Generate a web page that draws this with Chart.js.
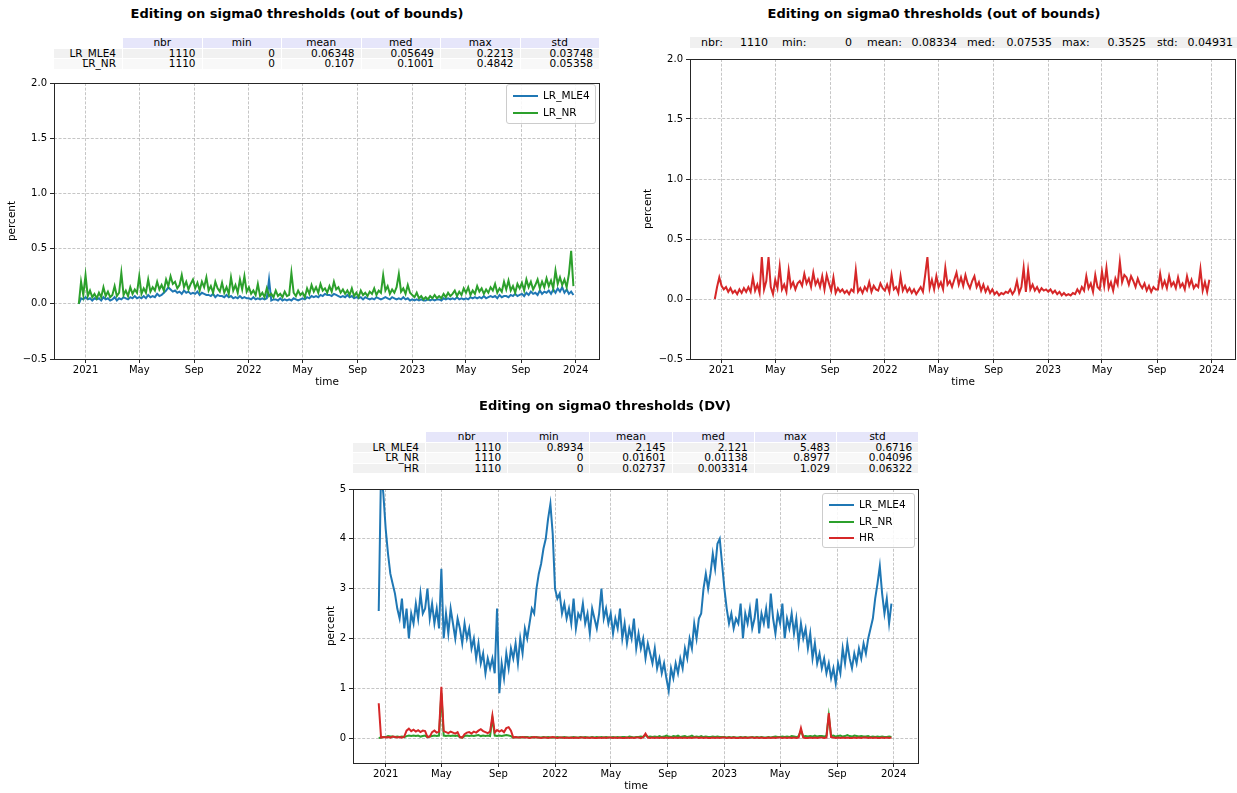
<!DOCTYPE html>
<html><head><meta charset="utf-8">
<script src="https://cdn.jsdelivr.net/npm/chart.js@4.4.1/dist/chart.umd.min.js"></script>
<style>
body{margin:0;width:1237px;height:793px;position:relative;background:#fff;font-family:"DejaVu Sans",sans-serif;overflow:hidden;color:#000}
.wrap{position:absolute}
.title{position:absolute;font-weight:bold;font-size:13px;transform:translateX(-50%);white-space:nowrap}
table.st{position:absolute;border-collapse:separate;border-spacing:1px 1px;font-size:10.5px;table-layout:fixed}
table.st td{padding:0 6px 0 0;height:9.6px;line-height:9.6px;white-space:nowrap;overflow:visible}
td.h{background:#e6e6fa;text-align:center;padding:0!important}
td.r{text-align:right}
.leg{position:absolute;background:rgba(255,255,255,0.85);border:1px solid #cccccc;border-radius:3px;font-size:10.5px}
.leg div{position:absolute;white-space:nowrap}
.bar2{position:absolute;background:#f0f0f0;font-size:11px;height:11px;line-height:11px}
.bar2 span{position:absolute;white-space:nowrap}
</style>
</head><body>
<script>
// ---------- data ----------
const startDate = '2020-12-17';   // first sample
const stepDays = 5;               // sampling step of the arrays below
const endDate = '2023-12-31';
const xTickDates = ['2021-01-01','2021-05-01','2021-09-01','2022-01-01','2022-05-01','2022-09-01','2023-01-01','2023-05-01','2023-09-01','2024-01-01'];
const xTickLabels = ['2021','May','Sep','2022','May','Sep','2023','May','Sep','2024'];
const yTicksTop = [-0.5,0,0.5,1,1.5,2];
const yTickLabelsTop = ['\u22120.5','0.0','0.5','1.0','1.5','2.0'];
const yTicksDV = [0,1,2,3,4,5];
const yTickLabelsDV = ['0','1','2','3','4','5'];

const titleOOB = 'Editing on sigma0 thresholds (out of bounds)';
const titleDV = 'Editing on sigma0 thresholds (DV)';

// plot 1 : out of bounds LR
const oobMLE4 = [0.0,0.05,0.04,
0.06,0.04,0.05,0.03,0.05,0.04, 0.05,0.03,0.06,0.04,0.05,0.03, 0.04,0.06,0.03,0.05,0.04,0.06,
0.05,0.04,0.06,0.05,0.07,0.05, 0.06,0.05,0.07,0.05,0.08,0.06, 0.07,0.06,0.09,0.07,0.08,0.1,
0.12,0.15,0.13,0.11,0.12,0.1, 0.11,0.09,0.12,0.1,0.11,0.09,0.1, 0.09,0.11,0.08,0.1,0.09,0.08,
0.08,0.07,0.09,0.06,0.08,0.07, 0.07,0.06,0.08,0.06,0.07,0.05, 0.06,0.05,0.07,0.05,0.06,0.05,
0.05,0.04,0.06,0.04,0.05,0.04, 0.05,0.04,0.05,0.22,0.03,0.04, 0.04,0.03,0.05,0.03,0.04,0.03,
0.04,0.03,0.05,0.04,0.03,0.04, 0.05,0.04,0.06,0.05,0.07,0.06, 0.07,0.06,0.08,0.07,0.09,0.08,
0.08,0.07,0.09,0.08,0.07,0.06, 0.07,0.06,0.08,0.06,0.07,0.05,0.06, 0.05,0.06,0.04,0.06,0.05,0.04,
0.05,0.04,0.06,0.05,0.04,0.05, 0.06,0.05,0.04,0.06,0.05,0.04, 0.05,0.04,0.06,0.04,0.05,0.03,
0.04,0.03,0.04,0.03,0.04,0.03, 0.03,0.04,0.03,0.04,0.03,0.04, 0.04,0.03,0.05,0.04,0.05,0.04,
0.05,0.04,0.06,0.04,0.05,0.04, 0.05,0.04,0.06,0.05,0.06,0.05, 0.06,0.05,0.07,0.05,0.06,0.07,
0.06,0.07,0.05,0.08,0.06,0.07, 0.07,0.06,0.08,0.07,0.09,0.07,0.08, 0.09,0.07,0.1,0.08,0.11,0.09,
0.1,0.08,0.12,0.09,0.11,0.1, 0.12,0.09,0.13,0.1,0.14,0.11, 0.15,0.1,0.13,0.09,0.11,0.08];

const oobNR = [0.0,0.2,0.08,
0.26,0.07,0.12,0.06,0.09,0.05, 0.1,0.06,0.15,0.07,0.11,0.06, 0.08,0.16,0.07,0.1,0.28,0.08,
0.12,0.07,0.15,0.09,0.13,0.1, 0.25,0.09,0.14,0.1,0.22,0.11, 0.15,0.12,0.2,0.13,0.17,0.12,
0.22,0.16,0.25,0.18,0.2,0.14, 0.17,0.26,0.15,0.2,0.13,0.18,0.22, 0.14,0.19,0.12,0.2,0.15,0.24,
0.12,0.16,0.1,0.2,0.14,0.11, 0.19,0.1,0.15,0.09,0.24,0.12, 0.17,0.1,0.22,0.13,0.25,0.11,
0.15,0.09,0.12,0.08,0.18,0.07, 0.1,0.06,0.14,0.07,0.09,0.06, 0.12,0.07,0.09,0.06,0.11,0.07,
0.08,0.28,0.1,0.07,0.12,0.08, 0.1,0.06,0.14,0.09,0.17,0.11, 0.15,0.1,0.18,0.12,0.14,0.1,
0.16,0.11,0.2,0.13,0.15,0.1, 0.13,0.09,0.12,0.08,0.14,0.07,0.1, 0.06,0.12,0.08,0.1,0.07,0.11,
0.09,0.14,0.08,0.12,0.1,0.26, 0.12,0.16,0.09,0.13,0.1,0.15, 0.27,0.11,0.14,0.09,0.17,0.1,
0.08,0.06,0.1,0.05,0.07,0.04, 0.06,0.04,0.07,0.05,0.08,0.05, 0.07,0.05,0.09,0.06,0.1,0.07,
0.09,0.12,0.07,0.11,0.08,0.14, 0.1,0.15,0.08,0.12,0.09,0.16, 0.11,0.14,0.09,0.13,0.1,0.15,
0.12,0.18,0.1,0.14,0.11,0.2, 0.13,0.21,0.12,0.16,0.1,0.18,0.14, 0.19,0.12,0.22,0.15,0.2,0.13,
0.17,0.22,0.14,0.2,0.15,0.23, 0.16,0.21,0.14,0.3,0.18,0.24, 0.17,0.22,0.15,0.27,0.48,0.16];

// plot 2 : out of bounds HR
const oobHR = [0.0,0.1,0.18,
0.11,0.08,0.1,0.06,0.09,0.05, 0.07,0.04,0.08,0.05,0.09,0.06, 0.1,0.06,0.18,0.07,0.12,0.05,
0.35,0.08,0.15,0.35,0.1,0.04, 0.16,0.09,0.27,0.08,0.12,0.06, 0.24,0.1,0.14,0.08,0.13,0.15,
0.11,0.21,0.13,0.17,0.1,0.22, 0.12,0.16,0.1,0.19,0.08,0.2,0.13, 0.07,0.18,0.05,0.09,0.06,0.08,
0.05,0.07,0.04,0.08,0.06,0.24, 0.06,0.09,0.05,0.1,0.07,0.14, 0.06,0.11,0.08,0.07,0.13,0.09,
0.07,0.12,0.06,0.2,0.08,0.1, 0.05,0.19,0.07,0.11,0.06,0.09, 0.05,0.08,0.04,0.07,0.1,0.06,
0.2,0.35,0.09,0.16,0.08,0.19, 0.1,0.14,0.08,0.26,0.12,0.15, 0.1,0.16,0.22,0.12,0.18,0.11,
0.2,0.13,0.09,0.15,0.19,0.1, 0.14,0.07,0.12,0.06,0.1,0.05,0.08, 0.04,0.06,0.03,0.05,0.04,0.06,
0.05,0.08,0.04,0.07,0.15,0.05, 0.1,0.26,0.06,0.24,0.08,0.12, 0.07,0.1,0.06,0.09,0.07,0.08,
0.06,0.08,0.05,0.07,0.04,0.06, 0.03,0.05,0.03,0.04,0.03,0.05, 0.04,0.08,0.05,0.1,0.07,0.19,
0.09,0.13,0.06,0.2,0.1,0.08, 0.23,0.11,0.26,0.09,0.14,0.07, 0.17,0.12,0.31,0.14,0.2,0.18,
0.12,0.19,0.15,0.1,0.17,0.12, 0.09,0.13,0.07,0.11,0.06,0.1,0.08, 0.08,0.21,0.1,0.15,0.09,0.19,
0.11,0.14,0.09,0.18,0.1,0.13, 0.08,0.19,0.11,0.16,0.09,0.12, 0.1,0.25,0.07,0.14,0.06,0.16];

// plot 3 : DV
const dvMLE4 = [2.55,5.4,4.9,
4.2,3.7,3.3,3.1,2.9,2.6, 2.4,2.8,2.2,2.6,2.0,2.5, 2.3,2.7,2.4,2.9,2.5,2.6,
3.0,2.4,2.7,2.3,2.6,2.2, 3.4,2.0,2.5,2.1,2.6,2.3, 2.0,2.4,2.2,1.9,2.3,2.0,
2.2,1.8,2.0,1.6,1.9,1.5, 1.7,1.3,1.6,1.4,1.6,1.3,2.6, 0.9,1.5,1.2,1.7,1.4,1.8,
1.6,1.9,1.5,2.0,1.7,2.2, 2.0,2.3,2.6,2.5,3.0,3.3, 3.5,3.8,4.0,4.4,4.7,4.1,
3.0,2.8,2.9,2.5,2.7,2.4, 2.6,2.3,2.8,2.2,2.5,2.4, 2.7,2.3,2.5,2.1,2.6,2.4,
2.2,2.5,3.0,2.4,2.6,2.3, 2.5,2.1,2.4,2.2,2.6,2.0, 2.3,1.9,2.2,2.0,2.4,1.8,
2.1,1.8,2.0,1.6,1.9,1.7, 1.5,1.8,1.4,1.6,1.3,1.5,1.2, 0.95,1.4,1.2,1.5,1.3,1.6,
1.4,1.8,1.6,2.0,1.8,2.3, 2.0,2.4,2.5,3.0,3.3,3.0, 3.3,3.7,3.4,3.9,4.0,3.5,
3.0,2.6,2.3,2.5,2.2,2.4, 2.3,2.7,2.0,2.5,2.3,2.6, 2.2,2.4,2.8,2.1,2.5,2.3,
2.6,2.2,2.9,2.4,2.1,2.5, 2.3,2.7,2.0,2.4,2.2,2.5, 2.1,2.4,1.9,2.3,2.0,2.2,
1.8,2.1,1.6,1.9,1.5,1.7, 1.4,1.6,1.3,1.5,1.2,1.4,1.1, 1.5,1.3,1.8,1.5,1.9,1.6,
1.4,1.7,1.5,1.8,1.6,1.9, 1.7,2.0,2.2,2.4,2.8,3.1, 3.45,2.9,2.5,2.8,2.3,2.7];

const dvNR = [0.0,0.01,0.02,
0.02,0.04,0.03,0.03,0.02,0.03, 0.02,0.03,0.02,0.04,0.05,0.04, 0.05,0.04,0.05,0.03,0.04,0.05,
0.02,0.03,0.04,0.05,0.04,0.05, 0.9,0.05,0.04,0.05,0.04,0.05, 0.04,0.05,0.02,0.01,0.04,0.05,
0.04,0.05,0.04,0.05,0.06,0.04, 0.05,0.04,0.05,0.04,0.4,0.05,0.04, 0.05,0.04,0.05,0.06,0.05,0.04,
0.01,0.02,0.01,0.02,0.01,0.02, 0.02,0.01,0.02,0.01,0.02,0.01, 0.01,0.02,0.01,0.02,0.01,0.01,
0.01,0.02,0.01,0.01,0.02,0.01, 0.01,0.01,0.02,0.01,0.01,0.02, 0.01,0.02,0.01,0.01,0.02,0.01,
0.02,0.01,0.02,0.01,0.02,0.01, 0.01,0.02,0.01,0.02,0.01,0.02, 0.02,0.01,0.03,0.02,0.01,0.02,
0.02,0.03,0.02,0.06,0.02,0.03, 0.02,0.03,0.02,0.04,0.02,0.03,0.05, 0.03,0.02,0.04,0.03,0.05,0.02,
0.03,0.04,0.02,0.03,0.05,0.02, 0.03,0.02,0.04,0.02,0.03,0.02, 0.02,0.03,0.02,0.03,0.02,0.02,
0.02,0.01,0.02,0.01,0.02,0.01, 0.01,0.02,0.01,0.02,0.01,0.01, 0.02,0.01,0.02,0.01,0.02,0.01,
0.01,0.02,0.01,0.02,0.03,0.02, 0.02,0.03,0.02,0.03,0.02,0.04, 0.03,0.02,0.04,0.15,0.03,0.04,
0.03,0.04,0.03,0.05,0.03,0.04, 0.04,0.03,0.05,0.45,0.04,0.05,0.03, 0.04,0.05,0.03,0.04,0.06,0.04,
0.03,0.05,0.04,0.03,0.04,0.03, 0.03,0.04,0.02,0.03,0.02,0.03, 0.02,0.03,0.02,0.02,0.03,0.02];

const dvHR = [0.7,0.01,0.02,
0.01,0.02,0.01,0.03,0.02,0.01, 0.02,0.01,0.03,0.15,0.19,0.14, 0.17,0.13,0.16,0.12,0.15,0.14,
0.02,0.03,0.12,0.15,0.11,0.13, 1.03,0.14,0.12,0.1,0.13,0.11, 0.09,0.12,0.02,0.01,0.08,0.11,
0.12,0.09,0.13,0.11,0.15,0.18, 0.14,0.12,0.1,0.13,0.45,0.11,0.16, 0.13,0.16,0.12,0.2,0.22,0.15,
0.01,0.02,0.01,0.01,0.02,0.01, 0.01,0.0,0.01,0.02,0.01,0.01, 0.0,0.01,0.01,0.0,0.01,0.02,
0.01,0.0,0.01,0.01,0.0,0.01, 0.0,0.01,0.0,0.01,0.0,0.01, 0.01,0.0,0.01,0.0,0.01,0.0,
0.0,0.01,0.0,0.01,0.0,0.01, 0.01,0.0,0.01,0.0,0.01,0.0, 0.0,0.01,0.0,0.01,0.0,0.01,
0.01,0.0,0.02,0.09,0.01,0.0, 0.01,0.0,0.01,0.0,0.01,0.0,0.01, 0.0,0.01,0.0,0.01,0.0,0.01,
0.0,0.01,0.0,0.01,0.0,0.01, 0.01,0.0,0.01,0.0,0.01,0.0, 0.0,0.01,0.0,0.01,0.0,0.01,
0.01,0.0,0.01,0.0,0.01,0.0, 0.0,0.01,0.0,0.01,0.0,0.01, 0.01,0.0,0.01,0.0,0.01,0.0,
0.0,0.01,0.0,0.01,0.0,0.01, 0.01,0.0,0.01,0.0,0.01,0.0, 0.01,0.0,0.01,0.2,0.01,0.0,
0.0,0.01,0.0,0.01,0.0,0.01, 0.01,0.0,0.01,0.5,0.02,0.01,0.0, 0.01,0.0,0.01,0.0,0.01,0.0,
0.0,0.01,0.0,0.01,0.0,0.01, 0.01,0.0,0.01,0.0,0.01,0.0, 0.0,0.01,0.0,0.01,0.0,0.01];

// tables
const statCols = ['nbr','min','mean','med','max','std'];
const t1Rows = ['LR_MLE4','LR_NR'];
const t1Vals = [['1110','0','0.06348','0.05649','0.2213','0.03748'],
                ['1110','0','0.107','0.1001','0.4842','0.05358']];
const t2Labels = ['nbr:','min:','mean:','med:','max:','std:'];
const t2Vals = ['1110','0','0.08334','0.07535','0.3525','0.04931'];
const t3Rows = ['LR_MLE4','LR_NR','HR'];
const t3Vals = [['1110','0.8934','2.145','2.121','5.483','0.6716'],
                ['1110','0','0.01601','0.01138','0.8977','0.04096'],
                ['1110','0','0.02737','0.003314','1.029','0.06322']];

const C_BLUE = '#1f77b4', C_GREEN = '#2ca02c', C_RED = '#d62728';

// ---------- helpers ----------
const toDay = s => Date.parse(s + 'T00:00:00Z') / 864e5;
const d0 = toDay(startDate), d1 = toDay(endDate);
const margin = (d1 - d0) * 0.05;
const pts = arr => arr.map((v, i) => ({x: d0 + i * stepDays, y: v}));

function el(tag, cls, css, parent) {
  const e = document.createElement(tag);
  if (cls) e.className = cls;
  if (css) Object.assign(e.style, css);
  (parent || document.body).appendChild(e);
  return e;
}

const framePlugin = {
  id: 'frame',
  afterDraw(c) {
    const a = c.chartArea, ctx = c.ctx;
    ctx.save();
    ctx.strokeStyle = '#262626';
    ctx.lineWidth = 1;
    ctx.strokeRect(Math.round(a.left) + 0.5, Math.round(a.top) + 0.5,
                   Math.round(a.right - a.left) - 1, Math.round(a.bottom - a.top));
    ctx.restore();
  }
};

Chart.defaults.font.family = '"DejaVu Sans", sans-serif';
Chart.defaults.font.size = 10;
Chart.defaults.color = '#000';

function makeChart(box, datasets, yMin, yMax, yTicks, yLabels, yWidth, xHeight, pad, xTitlePad) {
  const wrap = el('div', 'wrap', {left: box[0] + 'px', top: box[1] + 'px', width: box[2] + 'px', height: box[3] + 'px'});
  const cv = el('canvas', null, null, wrap);
  const gridCommon = {color: 'rgba(176,176,176,0.9)', lineWidth: 0.8, drawTicks: true, tickLength: 4,
                      tickColor: '#262626', tickWidth: 1, tickBorderDash: []};
  return new Chart(cv, {
    type: 'line',
    data: {datasets},
    options: {
      responsive: true, maintainAspectRatio: false, animation: false,
      layout: {padding: pad},
      plugins: {legend: {display: false}, tooltip: {enabled: false}},
      elements: {point: {radius: 0}, line: {tension: 0, borderWidth: 2}},
      scales: {
        x: {
          type: 'linear', min: d0 - margin, max: d1 + margin,
          afterBuildTicks: s => { s.ticks = xTickDates.map(d => ({value: toDay(d)})); },
          afterFit: s => { s.height = xHeight; },
          ticks: {autoSkip: false, maxRotation: 0, padding: 1, callback: (v, i) => xTickLabels[i]},
          grid: gridCommon,
          border: {display: false, dash: [3, 1.6]},
          title: {display: true, text: 'time', font: {size: 10.5}, padding: {top: 0, bottom: xTitlePad}}
        },
        y: {
          type: 'linear', min: yMin, max: yMax,
          afterBuildTicks: s => { s.ticks = yTicks.map(v => ({value: v})); },
          afterFit: s => { s.width = yWidth; },
          ticks: {padding: 3, callback: (v, i) => yLabels[i]},
          grid: gridCommon,
          border: {display: false, dash: [3, 1.6]},
          title: {display: true, text: 'percent', font: {size: 10.5}, padding: {top: 6, bottom: 0}}
        }
      }
    },
    plugins: [framePlugin]
  });
}

function title(text, cx, top) {
  const t = el('div', 'title', {left: cx + 'px', top: top + 'px'});
  t.textContent = text;
}

function statTable(left, top, labelW, colW, rows, vals) {
  const t = el('table', 'st', {left: (left - 1) + 'px', top: (top - 1) + 'px'});
  const cg = el('colgroup', null, null, t);
  el('col', null, {width: labelW + 'px'}, cg);
  statCols.forEach(() => el('col', null, {width: colW + 'px'}, cg));
  const hr = el('tr', null, null, t);
  el('td', null, {background: 'transparent'}, hr);
  statCols.forEach(c => { el('td', 'h', null, hr).textContent = c; });
  rows.forEach((r, i) => {
    const tr = el('tr', null, null, t);
    const bg = i % 2 === 0 ? '#f1f1f1' : '#f8f8f8';
    const lt = el('td', 'r', {background: bg}, tr); lt.textContent = r;
    vals[i].forEach(v => { const td = el('td', 'r', {background: bg}, tr); td.textContent = v; });
  });
}

function legend(left, top, w, h, items) {
  const L = el('div', 'leg', {left: left + 'px', top: top + 'px', width: w + 'px', height: h + 'px'});
  items.forEach((it, i) => {
    const y = 11 + i * 16.5;
    el('div', null, {left: '6px', top: (y - 1) + 'px', width: '25px', height: '2px', background: it[1]}, L);
    const t = el('div', null, {left: '36px', top: (y - 7) + 'px'}, L);
    t.textContent = it[0];
  });
}

// ---------- plot 1 ----------
title(titleOOB, 297, 6);
statTable(54, 38, 68, 78.5, t1Rows, t1Vals);
makeChart([0, 74, 620, 326], [
  {label: 'LR_MLE4', data: pts(oobMLE4), borderColor: C_BLUE, order: 2},
  {label: 'LR_NR', data: pts(oobNR), borderColor: C_GREEN, order: 1}
], -0.5, 2, yTicksTop, yTickLabelsTop, 54, 41, {top: 9, right: 20, left: 0, bottom: 0}, 11);
legend(506, 84, 88, 38, [['LR_MLE4', C_BLUE], ['LR_NR', C_GREEN]]);

// ---------- plot 2 ----------
title(titleOOB, 934, 6);
(function () {
  const b = el('div', 'bar2', {left: '690px', top: '37px', width: '547px'});
  const labelX = [701, 782, 867, 967, 1062, 1157];
  const valueEnd = [768, 852, 957, 1052, 1146, 1233];
  t2Labels.forEach((l, i) => {
    const s = el('span', null, {left: (labelX[i] - 690) + 'px'}, b); s.textContent = l;
    const v = el('span', null, {right: (1237 - valueEnd[i]) + 'px'}, b); v.textContent = t2Vals[i];
  });
})();
makeChart([636, 49, 601, 351], [
  {label: 'HR', data: pts(oobHR), borderColor: C_RED}
], -0.5, 2, yTicksTop, yTickLabelsTop, 54, 41, {top: 10, right: 1, left: 0, bottom: 0}, 11);

// ---------- plot 3 ----------
title(titleDV, 605, 398);
statTable(353, 432, 72, 81.2, t3Rows, t3Vals);
makeChart([319, 480, 620, 313], [
  {label: 'LR_MLE4', data: pts(dvMLE4), borderColor: C_BLUE, order: 3},
  {label: 'LR_NR', data: pts(dvNR), borderColor: C_GREEN, order: 2},
  {label: 'HR', data: pts(dvHR), borderColor: C_RED, order: 1}
], -0.5, 5, yTicksDV, yTickLabelsDV, 34, 30, {top: 9, right: 20, left: 0, bottom: 0}, 0);
legend(822, 493, 91, 53, [['LR_MLE4', C_BLUE], ['LR_NR', C_GREEN], ['HR', C_RED]]);
</script>
</body></html>
